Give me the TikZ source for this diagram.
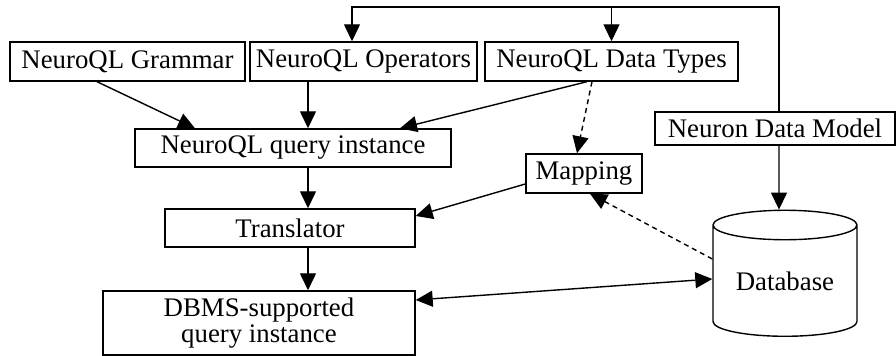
\documentclass[tikz,border=0pt]{standalone}
\usepackage{fontspec}
\setmainfont{Liberation Serif}
\usepackage{tikz}
\usetikzlibrary{shapes.geometric,arrows.meta}
\tikzset{blk/.style={rectangle,draw,line width=0.7pt,inner sep=0pt,font=\fontsize{13.4}{15}\selectfont}}
\tikzset{store/.style={cylinder,draw,line width=0.7pt,shape border rotate=90,aspect=0.3,inner sep=0pt,font=\fontsize{13.4}{15}\selectfont}}

\begin{document}
\begin{tikzpicture}[x=0.5pt,y=-0.5pt,>={Triangle[length=8.5pt,width=8pt]},line width=0.7pt]
        \useasboundingbox (0,0) rectangle (896,356);
        \node[blk,minimum width=117.5pt,minimum height=19.5pt] (gram) at (127.5,61.5) {NeuroQL Grammar};
        \node[blk,minimum width=113.5pt,minimum height=19.5pt] (ops) at (363.5,61.5) {NeuroQL Operators};
        \node[blk,minimum width=126.5pt,minimum height=19.5pt] (types) at (611.5,61.5) {NeuroQL Data Types};
        \node[blk,minimum width=120pt,minimum height=16.5pt] (ndm) at (775,128.5) {Neuron Data Model};
        \node[blk,minimum width=158pt,minimum height=19pt] (query) at (293,148) {NeuroQL query instance};
        \node[blk,minimum width=58pt,minimum height=19.5pt] (map) at (584,173.5) {Mapping};
        \node[blk,minimum width=125pt,minimum height=19pt] (trans) at (290,228) {Translator};
        \node[blk,minimum width=156pt,minimum height=32pt,align=center] (dbms) at (259,323) {DBMS-supported\\[-2pt]query instance};
        \node[store,minimum width=72pt,minimum height=63pt] (db) at (785,281) {Database};
        \coordinate (top) at (352,7);

        \draw [->] ([xshift=-15.25pt]gram.south) -- ([xshift=-49pt]query.north);
        \draw [->] ([xshift=-27.75pt]ops.south) -- ([xshift=7.5pt]query.north);
        \draw [->] ([xshift=-12.25pt]types.south) -- ([xshift=53.5pt]query.north);
        \draw [->,dash pattern=on 2.5pt off 2pt] ([xshift=-9.75pt]types.south) -- ([xshift=-3.5pt]map.north);
        \draw [->] ([xshift=7.5pt]query.south) -- ([xshift=9pt]trans.north);
        \draw [->] ([yshift=-5.25pt]map.west) -- ([yshift=6pt]trans.east);
        \draw [->] ([xshift=9pt]trans.south) -- ([xshift=24.5pt]dbms.north);
        \draw [<->] ([yshift=11.5pt]dbms.east) -- ([yshift=1pt]db.west);
        \draw [->,dash pattern=on 2.5pt off 2pt] ([yshift=11pt]db.west) -- ([xshift=3pt]map.south);
        \draw [->] ([xshift=2pt]ndm.south) -- ([xshift=-3pt]db.north);
        \draw [->] ([xshift=2pt]ndm.north) |- (top) -- ([xshift=-5.75pt]ops.north);
        \draw [->] (top -| types.north) -- (types.north);
    \end{tikzpicture}
\end{document}
